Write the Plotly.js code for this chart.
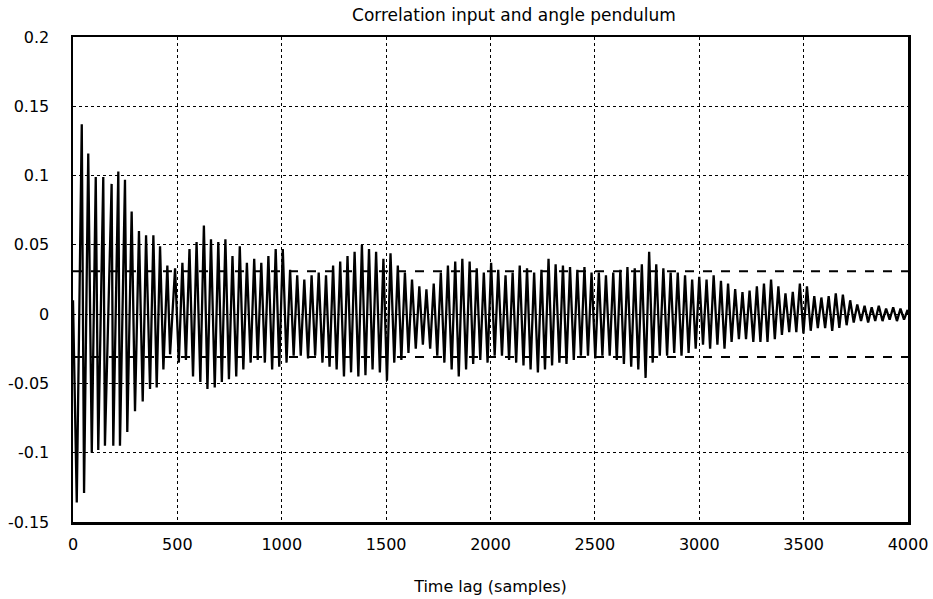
<!DOCTYPE html>
<html>
<head>
<meta charset="utf-8">
<script src="https://cdn.plot.ly/plotly-3.0.1.min.js"></script>
<style>html,body{margin:0;padding:0;background:#fff;}#chart{width:933px;height:599px;}</style>
</head>
<body>
<div id="chart"></div>
<script>
// Positive peaks of the cross-correlation (lag in samples, value)
const peakLag = [42,73,109,145,185,217,249,281,316,350,385,417,452,489,
524,558,592,627,661,696,730,764,799,833,868,902,936,971,1005,
1040,1074,1108,1143,1177,1212,1246,1280,1315,1349,1384,1418,1452,1487,1521,1556,
1590,1624,1659,1693,1728,1762,1796,1831,1865,1900,1934,1968,2003,2037,2072,
2106,2140,2175,2209,2244,2278,2312,2347,2381,2416,2450,2484,2519,2553,2588,
2622,2656,2691,2725,2760,2794,2828,2863,2897,2932,2966,3000,3035,3069,3104,
3138,3172,3207,3241,3276,3310,3344,3379,3413,3448,3482,3516,3551,3585,3620,
3654,3688,3723,3757,3792,3826,3860,3895,3929,3964,3998];
const peakVal = [0.137,0.116,0.099,0.099,0.094,0.103,0.097,0.074,0.060,0.057,0.057,0.049,0.035,0.033,
0.037,0.047,0.052,0.064,0.054,0.052,0.054,0.042,0.049,0.037,0.040,0.037,0.042,0.047,0.047,
0.032,0.028,0.025,0.028,0.030,0.028,0.035,0.038,0.042,0.045,0.050,0.047,0.045,0.040,0.044,0.035,
0.030,0.025,0.020,0.018,0.022,0.030,0.035,0.038,0.040,0.038,0.033,0.030,0.037,0.032,0.028,
0.030,0.035,0.033,0.030,0.032,0.040,0.036,0.035,0.034,0.032,0.034,0.030,0.030,0.028,0.030,
0.032,0.034,0.033,0.036,0.045,0.036,0.033,0.030,0.030,0.028,0.025,0.027,0.025,0.028,0.024,
0.022,0.018,0.016,0.017,0.020,0.022,0.025,0.020,0.015,0.016,0.022,0.020,0.013,0.012,0.013,
0.015,0.014,0.010,0.007,0.006,0.005,0.006,0.004,0.005,0.004,0.003];
// Negative troughs
const troughLag = [18,53,90,121,153,193,225,260,297,334,369,401,433,465,
507,541,575,610,644,679,713,747,782,816,851,885,919,954,988,
1023,1057,1091,1126,1160,1195,1229,1263,1298,1332,1367,1401,1435,1470,1504,1539,
1573,1607,1642,1676,1711,1745,1779,1814,1848,1883,1917,1951,1986,2020,2055,
2089,2123,2158,2192,2227,2261,2295,2330,2364,2399,2433,2467,2502,2536,2571,
2605,2639,2674,2708,2743,2777,2811,2846,2880,2915,2949,2983,3018,3052,3087,
3121,3155,3190,3224,3259,3293,3327,3362,3396,3431,3465,3499,3534,3568,3603,
3637,3671,3706,3740,3775,3809,3843,3878,3912,3947,3981];
const troughVal = [-0.136,-0.129,-0.100,-0.098,-0.095,-0.095,-0.095,-0.085,-0.070,-0.063,-0.054,-0.053,-0.040,-0.029,
-0.035,-0.033,-0.045,-0.049,-0.054,-0.053,-0.049,-0.047,-0.045,-0.040,-0.035,-0.033,-0.035,-0.040,-0.038,
-0.035,-0.030,-0.030,-0.032,-0.030,-0.035,-0.038,-0.040,-0.045,-0.042,-0.045,-0.044,-0.040,-0.042,-0.048,-0.035,
-0.033,-0.028,-0.025,-0.022,-0.025,-0.030,-0.035,-0.040,-0.045,-0.040,-0.036,-0.033,-0.035,-0.030,-0.030,
-0.033,-0.035,-0.037,-0.040,-0.042,-0.040,-0.037,-0.035,-0.036,-0.033,-0.030,-0.030,-0.032,-0.030,-0.030,
-0.033,-0.036,-0.038,-0.040,-0.046,-0.035,-0.030,-0.030,-0.028,-0.030,-0.028,-0.025,-0.022,-0.025,-0.022,
-0.025,-0.020,-0.018,-0.018,-0.020,-0.020,-0.020,-0.018,-0.015,-0.013,-0.013,-0.014,-0.012,-0.010,-0.010,
-0.012,-0.010,-0.008,-0.006,-0.005,-0.006,-0.005,-0.005,-0.004,-0.005,-0.004];
const startLag = 0, startVal = 0.01, endLag = 4000, endVal = 0.0;
// Confidence bounds (dashed)
const confLag = [0, 4000];
const confBound = 0.031;

const xTicks = [0,500,1000,1500,2000,2500,3000,3500,4000];
const yTicks = [0.2,0.15,0.1,0.05,0,-0.05,-0.1,-0.15];
const yTickText = ['0.2','0.15','0.1','0.05','0','-0.05','-0.1','-0.15'];

// merge extrema into one sorted series
let pts = [[startLag,startVal]];
peakLag.forEach((l,i)=>pts.push([l,peakVal[i]]));
troughLag.forEach((l,i)=>pts.push([l,troughVal[i]]));
pts.push([endLag,endVal]);
pts.sort((a,b)=>a[0]-b[0]);

const font = {family:'DejaVu Sans, sans-serif', size:16, color:'#000'};
const traces = [
  {x: confLag, y: confLag.map(()=>confBound), mode:'lines', line:{color:'#000',width:2,dash:'dash'}, hoverinfo:'skip'},
  {x: confLag, y: confLag.map(()=>-confBound), mode:'lines', line:{color:'#000',width:2,dash:'dash'}, hoverinfo:'skip'},
  {x: pts.map(p=>p[0]), y: pts.map(p=>p[1]), mode:'lines', line:{color:'#000',width:2.3}}
];
const axisCommon = {showgrid:true, gridcolor:'#000', gridwidth:1.2, griddash:'dot', showline:true, mirror:true,
  linecolor:'#000', linewidth:2.5, zeroline:false, ticks:'', tickfont:font};
const layout = {
  width:933, height:599, showlegend:false,
  paper_bgcolor:'#fff', plot_bgcolor:'#fff',
  margin:{l:73, r:25, t:37, b:77},
  title:{text:'Correlation input and angle pendulum', font:{family:'DejaVu Sans, sans-serif', size:17, color:'#000'},
    x:514/933, xref:'container', xanchor:'center', y:1-15/599, yref:'container', yanchor:'middle'},
  xaxis: Object.assign({}, axisCommon, {range:[0,4000], tickvals:xTicks, ticklabelstandoff:6,
    title:{text:'Time lag (samples)', font:font, standoff:28}}),
  yaxis: Object.assign({}, axisCommon, {range:[-0.15,0.2], tickvals:yTicks, ticktext:yTickText, ticklabelstandoff:18})
};
Plotly.newPlot('chart', traces, layout, {displayModeBar:false, staticPlot:true});
</script>
</body>
</html>
